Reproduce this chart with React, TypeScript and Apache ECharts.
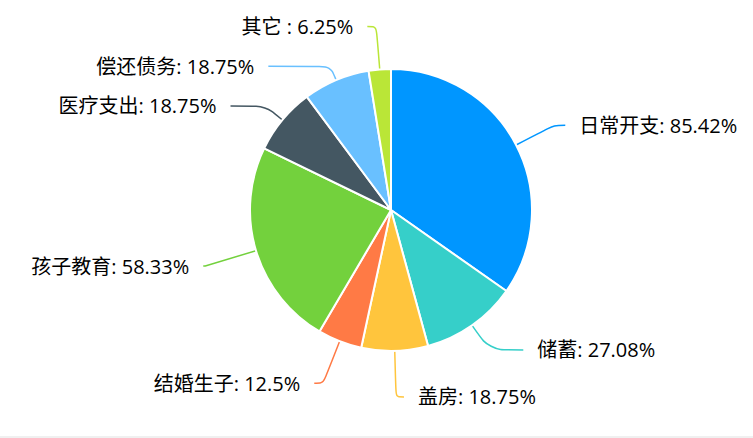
import React, { useEffect, useRef } from "react";
import * as echarts from "echarts";

const categories = ["日常开支", "储蓄", "盖房", "结婚生子", "孩子教育", "医疗支出", "偿还债务", "其它 "];
const counts = [41, 13, 9, 6, 28, 9, 9, 3];
const respondents = 48;
const colors = ["#0096ff", "#36cfc9", "#ffc53d", "#ff7a45", "#73d13d", "#445762", "#69c0ff", "#bae637"];
// label line styling per slice: [length, length2]
const lineLengths: [number, number][] = [
  [43, 11],
  [30, 34],
  [46, 8],
  [45, 9],
  [53, 2],
  [22, 35],
  [15, 62],
  [43, 9],
];

export default function App() {
  const ref = useRef<HTMLDivElement>(null);
  useEffect(() => {
    if (!ref.current) return;
    const chart = echarts.init(ref.current, undefined, { renderer: "svg" });
    chart.setOption({
      animation: false,
      color: colors,
      series: [
        {
          type: "pie",
          center: [391, 210],
          radius: 141,
          startAngle: 90,
          avoidLabelOverlap: false,
          itemStyle: { borderColor: "#fff", borderWidth: 2 },
          label: {
            show: true,
            color: "#000",
            fontSize: 20,
            fontFamily: "'Open Sans', 'Noto Sans CJK SC', sans-serif",
            distanceToLabelLine: 14,
            padding: [16, 0, 0, 0],
            formatter: (p: any) => `${p.name}: ${+((p.value / respondents) * 100).toFixed(2)}%`,
          },
          labelLine: { show: true, length: 30, length2: 20, smooth: true, lineStyle: { width: 1.5 } },
          emphasis: { scale: false },
          data: categories.map((name, i) => ({
            name,
            value: counts[i],
            labelLine: { length: lineLengths[i][0], length2: lineLengths[i][1] },
          })),
        },
      ],
    });
    return () => chart.dispose();
  }, []);
  return (
    <div style={{ position: "fixed", left: 0, top: 0, width: 753, height: 438, background: "#fff" }}>
      <div ref={ref} style={{ width: 753, height: 436 }} />
      <div style={{ width: 753, height: 2, background: "#f0f0f0" }} />
    </div>
  );
}
